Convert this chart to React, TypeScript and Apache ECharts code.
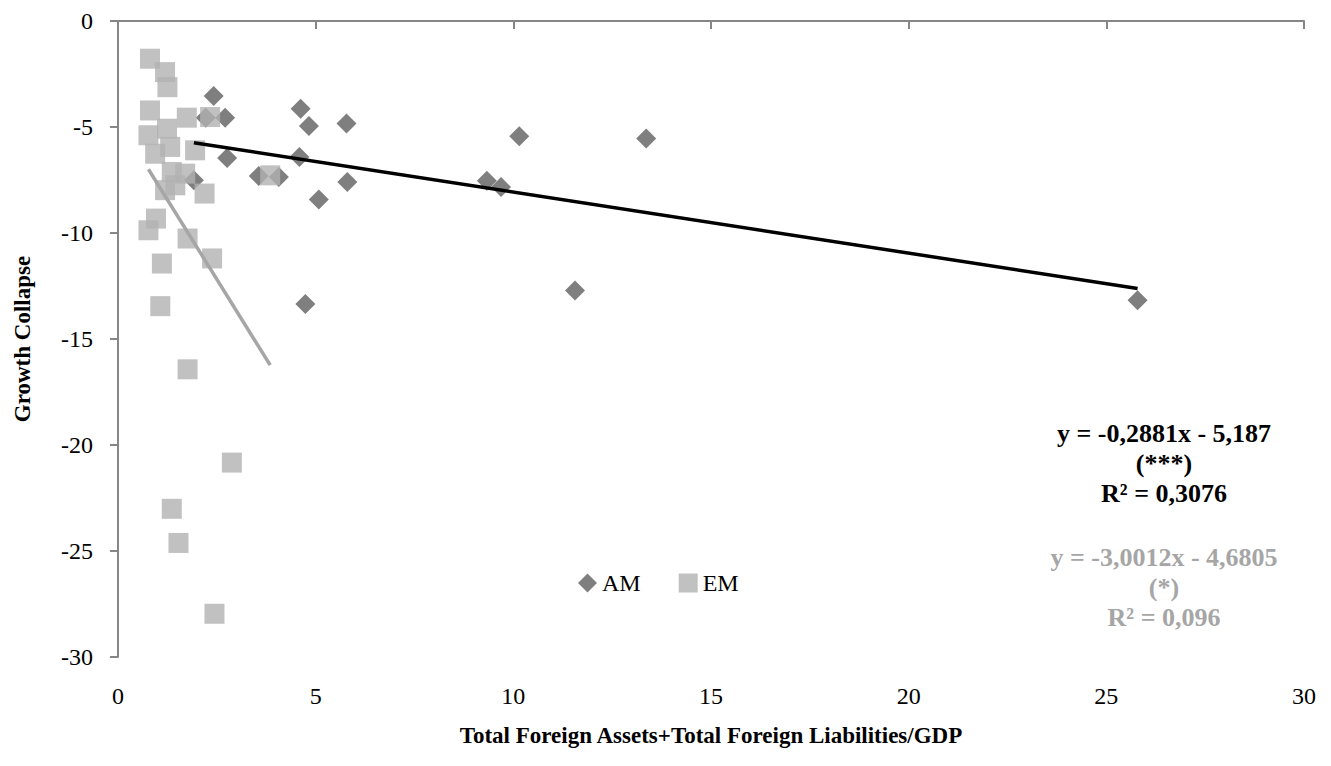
import React, { useEffect, useRef } from "react";
import * as echarts from "echarts";

const xTicks = [0, 5, 10, 15, 20, 25, 30];
const yTicks = [-30, -25, -20, -15, -10, -5, 0];

const amX = [2.42, 2.22, 2.71, 4.62, 4.83, 5.78, 10.15, 13.36, 2.76, 4.59, 3.56, 4.07, 5.8, 5.08, 1.92, 9.33, 9.69, 11.56, 25.79, 4.74];
const amY = [-3.54, -4.56, -4.56, -4.14, -4.95, -4.84, -5.44, -5.54, -6.46, -6.41, -7.31, -7.36, -7.59, -8.42, -7.51, -7.54, -7.83, -12.71, -13.17, -13.35];

const emX = [0.81, 1.19, 1.25, 0.81, 1.74, 2.33, 1.24, 0.77, 1.32, 0.94, 1.95, 1.36, 1.7, 1.45, 1.19, 2.19, 3.85, 0.96, 0.77, 1.76, 2.38, 1.11, 1.07, 1.76, 2.88, 1.36, 1.53, 2.44];
const emY = [-1.78, -2.41, -3.12, -4.22, -4.56, -4.53, -5.08, -5.39, -5.94, -6.26, -6.1, -7.12, -7.2, -7.75, -7.98, -8.14, -7.28, -9.32, -9.87, -10.26, -11.2, -11.44, -13.45, -16.43, -20.83, -23.01, -24.62, -27.96];

const amFit = { slope: -0.2881, intercept: -5.187 };
const emFit = { slope: -3.0012, intercept: -4.6805 };

const amEq = ["y = -0,2881x - 5,187", "(***)", "R² = 0,3076"];
const emEq = ["y = -3,0012x - 4,6805", "(*)", "R² = 0,096"];

const FONT = "Liberation Serif";

function fitLine(xs: number[], fit: { slope: number; intercept: number }) {
  const lo = Math.min(...xs);
  const hi = Math.max(...xs);
  return [
    [lo, fit.slope * lo + fit.intercept],
    [hi, fit.slope * hi + fit.intercept],
  ];
}

export default function App() {
  const ref = useRef<HTMLDivElement>(null);
  useEffect(() => {
    if (!ref.current) return;
    const chart = echarts.init(ref.current, undefined, { renderer: "svg" });
    const eqText = (lines: string[], top: number, color: string) =>
      lines.map((t, i) => ({
        type: "text",
        x: 1164,
        y: top + i * 30,
        style: {
          text: t,
          fill: color,
          fontFamily: FONT,
          fontSize: 26,
          fontWeight: "bold",
          align: "center",
          verticalAlign: "middle",
        },
      }));
    chart.setOption({
      animation: false,
      backgroundColor: "#ffffff",
      textStyle: { fontFamily: FONT },
      grid: { left: 118, right: 27, top: 21, bottom: 109, containLabel: false },
      legend: {
        data: [
          { name: "AM", icon: "diamond" },
          { name: "EM", icon: "rect" },
        ],
        left: 573,
        top: 566,
        itemWidth: 19,
        itemHeight: 19,
        itemGap: 38,
        textStyle: { fontFamily: FONT, fontSize: 24, color: "#000" },
      },
      xAxis: [
        {
          type: "value",
          position: "bottom",
          min: 0,
          max: 30,
          interval: 5,
          axisLine: { show: false },
          axisTick: { show: false },
          splitLine: { show: false },
          axisLabel: { margin: 27, fontSize: 24, fontFamily: FONT, color: "#000", formatter: (v: number) => (xTicks.includes(v) ? String(v) : "") },
          name: "Total Foreign Assets+Total Foreign Liabilities/GDP",
          nameLocation: "middle",
          nameGap: 67,
          nameTextStyle: { fontFamily: FONT, fontSize: 23, fontWeight: "bold", color: "#000" },
        },
        {
          type: "value",
          position: "top",
          min: 0,
          max: 30,
          interval: 5,
          axisLine: { show: true, onZero: false, lineStyle: { color: "#868686", width: 2 } },
          axisTick: { show: true, inside: true, length: 8, lineStyle: { color: "#868686", width: 2 } },
          axisLabel: { show: false },
          splitLine: { show: false },
        },
      ],
      yAxis: {
        type: "value",
        min: -30,
        max: 0,
        interval: 5,
        axisLine: { show: true, onZero: false, lineStyle: { color: "#868686", width: 2 } },
        axisTick: { show: true, length: 8, lineStyle: { color: "#868686", width: 2 } },
        splitLine: { show: false },
        axisLabel: { margin: 25, fontSize: 24, fontFamily: FONT, color: "#000", formatter: (v: number) => (yTicks.includes(v) ? String(v) : "") },
        name: "Growth Collapse",
        nameLocation: "middle",
        nameGap: 84,
        nameTextStyle: { fontFamily: FONT, fontSize: 23, fontWeight: "bold", color: "#000" },
      },
      series: [
        {
          name: "AM",
          type: "scatter",
          symbol: "diamond",
          symbolSize: 20,
          itemStyle: { color: "#5f5f5f" },
          data: amX.map((x, i) => [x, amY[i]]),
          z: 2,
        },
        {
          name: "EM",
          type: "scatter",
          symbol: "rect",
          symbolSize: 20,
          itemStyle: { color: "#b2b2b2" },
          data: emX.map((x, i) => [x, emY[i]]),
          z: 3,
        },
        {
          name: "AM fit",
          type: "line",
          symbol: "none",
          data: fitLine(amX, amFit),
          lineStyle: { color: "#000000", width: 3.5 },
          z: 5,
          silent: true,
        },
        {
          name: "EM fit",
          type: "line",
          symbol: "none",
          data: fitLine(emX, emFit),
          lineStyle: { color: "#a6a6a6", width: 3.5 },
          z: 5,
          silent: true,
        },
      ],
      graphic: [...eqText(amEq, 433, "#000000"), ...eqText(emEq, 557, "#a6a6a6")],
    });
    return () => chart.dispose();
  }, []);
  return <div ref={ref} style={{ position: "absolute", left: 0, top: 0, width: 1331, height: 766 }} />;
}
